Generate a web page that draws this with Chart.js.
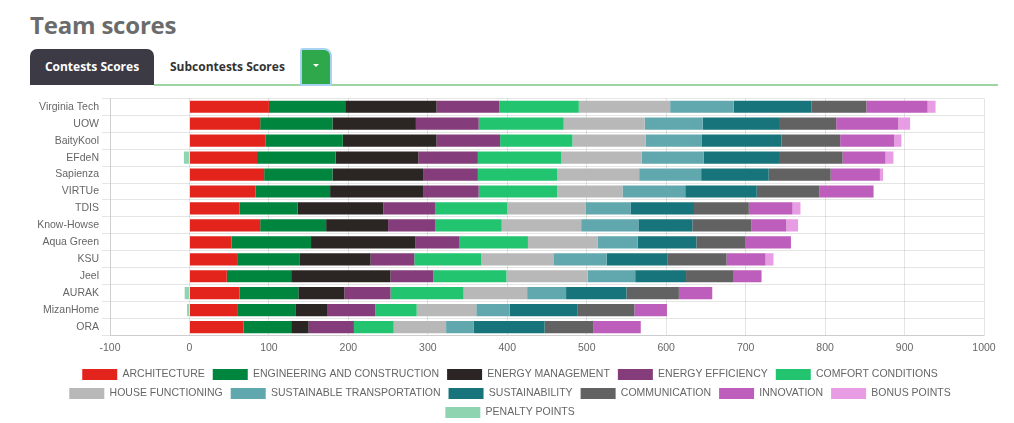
<!DOCTYPE html>
<html>
<head>
<meta charset="utf-8">
<script src="https://cdn.jsdelivr.net/npm/chart.js@4.4.1/dist/chart.umd.min.js"></script>
<style>
  html, body { margin: 0; padding: 0; background: #fff; width: 1014px; height: 423px; overflow: hidden; }
  #title { position: absolute; left: 30px; top: 8px; font-family: "Open Sans", sans-serif; font-weight: 700; font-size: 24px; color: #6b6b6b; letter-spacing: -0.2px; }
  #tab1 { position: absolute; left: 30px; top: 49px; width: 124px; height: 36px; background: #3b3a45; border-radius: 7px 7px 0 0; color: #fff; font-family: "Open Sans", sans-serif; font-weight: 700; font-size: 12px; line-height: 36px; text-align: center; }
  #tab2 { position: absolute; left: 170px; top: 49px; height: 36px; color: #333; font-family: "Open Sans", sans-serif; font-weight: 700; font-size: 12px; line-height: 36px; }
  #btn { position: absolute; left: 300px; top: 48px; width: 28px; height: 34px; background: #2ea84a; border: 2px solid #a9d3f2; border-radius: 3px 8px 0 0; }
  #caret { position: absolute; left: 11px; top: 14px; width: 0; height: 0; border-left: 3px solid transparent; border-right: 3px solid transparent; border-top: 3px solid #fff; }
  #line { position: absolute; left: 154px; top: 84px; width: 844px; height: 1.5px; background: #9fd5a3; }
  #wrap { position: absolute; left: 0; top: 89px; width: 1014px; height: 339px; }
</style>
</head>
<body>
<div id="title">Team scores</div>
<div id="tab1">Contests Scores</div>
<div id="tab2">Subcontests Scores</div>
<div id="line"></div>
<div id="btn"><div id="caret"></div></div>
<div id="wrap"><canvas id="c"></canvas></div>
<script>
const teams = ["Virginia Tech", "UOW", "BaityKool", "EFdeN", "Sapienza", "VIRTUe", "TDIS", "Know-Howse", "Aqua Green", "KSU", "Jeel", "AURAK", "MizanHome", "ORA"];
const xTicks = [-100, 0, 100, 200, 300, 400, 500, 600, 700, 800, 900, 1000];

const architecture   = [100, 89, 96, 85, 94, 83, 63, 89, 53, 60, 47, 63, 61, 68];
const engineering    = [96, 91, 97, 99, 86, 94, 73, 83, 100, 79, 81, 74, 73, 60];
const energyMgmt     = [115, 105, 118, 104, 114, 117, 108, 78, 131, 89, 125, 58, 40, 22];
const energyEff      = [79, 79, 80, 75, 69, 70, 65, 59, 56, 55, 54, 58, 60, 57];
const comfort        = [100, 107, 91, 105, 100, 99, 91, 84, 86, 84, 92, 92, 52, 50];
const house          = [115, 102, 92, 101, 103, 82, 99, 100, 88, 91, 102, 80, 75, 66];
const transport      = [80, 73, 71, 78, 78, 79, 56, 72, 50, 67, 60, 49, 42, 35];
const sustainability = [98, 96, 100, 95, 85, 90, 80, 68, 74, 77, 64, 76, 85, 89];
const communication  = [69, 72, 74, 80, 78, 79, 69, 74, 62, 74, 60, 66, 72, 61];
const innovation     = [77, 78, 68, 54, 62, 68, 55, 44, 57, 49, 35, 42, 41, 60];
const bonus          = [10, 15, 9, 10, 4, 0, 10, 15, 0, 10, 0, 0, 0, 0];
const penalty        = [0, 0, 0, -7, 0, 0, 0, 0, 0, 0, 0, -6, -3, 0];

const seriesNames = ["ARCHITECTURE", "ENGINEERING AND CONSTRUCTION", "ENERGY MANAGEMENT", "ENERGY EFFICIENCY", "COMFORT CONDITIONS", "HOUSE FUNCTIONING", "SUSTAINABLE TRANSPORTATION", "SUSTAINABILITY", "COMMUNICATION", "INNOVATION", "BONUS POINTS", "PENALTY POINTS"];
const seriesValues = [architecture, engineering, energyMgmt, energyEff, comfort, house, transport, sustainability, communication, innovation, bonus, penalty];
const seriesColors = ["#e3241d", "#00853f", "#2b2623", "#843c7b", "#22c46f", "#b8b8b8", "#60a8ae", "#17747a", "#626262", "#bd5dbc", "#e79ce3", "#8fd4b1"];

const fontFam = "'Liberation Sans', Arial, sans-serif";

new Chart(document.getElementById('c'), {
  type: 'bar',
  data: {
    labels: teams,
    datasets: seriesNames.map((n, i) => ({
      label: n,
      data: seriesValues[i],
      backgroundColor: seriesColors[i],
      borderWidth: 0
    }))
  },
  options: {
    indexAxis: 'y',
    responsive: true,
    maintainAspectRatio: false,
    animation: false,
    layout: { padding: { left: 36, right: 30, top: 3, bottom: 0 } },
    scales: {
      x: {
        stacked: true,
        min: -100,
        max: 1000,
        afterBuildTicks: (s) => { s.ticks = xTicks.map(v => ({ value: v })); },
        grid: { drawTicks: false, color: 'rgba(0,0,0,0.1)' },
        ticks: { padding: 8, color: '#666', font: { family: fontFam, size: 10.5, lineHeight: 0.9 }, callback: (v) => String(v) }
      },
      y: {
        stacked: true,
        afterFit: (s) => { s.width = 74; },
        grid: { color: 'rgba(0,0,0,0.1)', tickLength: 8 },
        ticks: { padding: 3, color: '#666', font: { family: fontFam, size: 10.5 } }
      }
    },
    plugins: {
      legend: {
        position: 'bottom',
        labels: { boxWidth: 35, boxHeight: 11, padding: 8, color: '#666', font: { family: fontFam, size: 10.5 } }
      },
      tooltip: { enabled: false }
    }
  }
});
</script>
</body>
</html>
